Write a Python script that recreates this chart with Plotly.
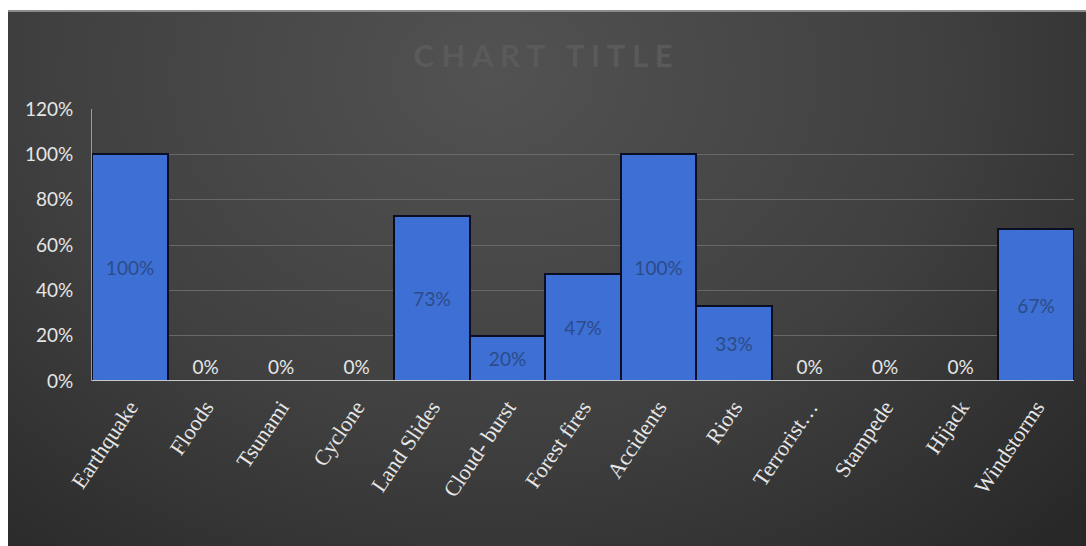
import base64
import plotly.graph_objects as go

# Share of respondents aware of each hazard type
categories = ["Earthquake", "Floods", "Tsunami", "Cyclone", "Land Slides", "Cloud- burst",
              "Forest fires", "Accidents", "Riots", "Terrorist…", "Stampede", "Hijack", "Windstorms"]
values = [100, 0, 0, 0, 73, 20, 47, 100, 33, 0, 0, 0, 67]
y_ticks = [0, 20, 40, 60, 80, 100, 120]
y_tick_labels = ["0%", "20%", "40%", "60%", "80%", "100%", "120%"]

W, H = 1086, 546
ML, MR, MT, MB = 92, 12, 109, 165
PW, PH = W - ML - MR, H - MT - MB

# Dark radial backdrop drawn as an SVG image behind everything
svg = f"""<svg xmlns='http://www.w3.org/2000/svg' width='{W}' height='{H}'>
<defs><radialGradient id='g' cx='0.45' cy='0.12' r='0.75' gradientTransform='translate(0.45 0.12) scale(1 1.6) translate(-0.45 -0.12)'>
<stop offset='0' stop-color='#525252'/><stop offset='0.55' stop-color='#404040'/><stop offset='1' stop-color='#282828'/>
</radialGradient></defs>
<rect x='0' y='0' width='{W}' height='{H}' fill='white'/>
<rect x='8' y='10' width='{W-8}' height='{H-10}' fill='url(#g)'/>
<rect x='8' y='10' width='{W-8}' height='2' fill='#8a8a8a'/>
</svg>"""
bg_uri = "data:image/svg+xml;base64," + base64.b64encode(svg.encode()).decode()

labels = [f"{v}%" for v in values]
positions = ["outside" if v == 0 else "inside" for v in values]

fig = go.Figure(go.Bar(
    x=categories,
    y=values,
    text=labels,
    textposition=positions,
    insidetextanchor="middle",
    insidetextfont=dict(family="Lato", size=19, color="#2b4c88"),
    outsidetextfont=dict(family="Lato", size=19, color="#e6e6e6"),
    cliponaxis=False,
    marker=dict(color="#3e6fd4", line=dict(color="#0b0d22", width=2)),
    hoverinfo="skip",
))

fig.update_layout(
    width=W, height=H,
    margin=dict(l=ML, r=MR, t=MT, b=MB, autoexpand=False),
    paper_bgcolor="white",
    plot_bgcolor="rgba(0,0,0,0)",
    bargap=0,
    showlegend=False,
    title=dict(text="<b>C H A R T   T I T L E</b>", x=0.5, xanchor="center",
               y=1 - 56 / H, yanchor="middle",
               font=dict(family="Lato", size=31, color="#5a5a5a")),
    images=[dict(source=bg_uri, xref="paper", yref="paper",
                 x=-ML / PW, y=1 + MT / PH, sizex=W / PW, sizey=H / PH,
                 xanchor="left", yanchor="top", sizing="stretch", layer="below")],
    xaxis=dict(
        tickangle=-56,
        tickfont=dict(family="Liberation Serif", size=22, color="#e6e6e6"),
        ticklabelstandoff=8,
        showgrid=False, ticks="", showline=False, zeroline=False,
        range=[-0.5, len(categories) - 0.5],
    ),
    yaxis=dict(
        range=[0, 120],
        tickvals=y_ticks, ticktext=y_tick_labels,
        tickfont=dict(family="Lato", size=19, color="#e6e6e6"),
        ticklabelstandoff=14,
        showgrid=True, gridcolor="#686868", gridwidth=1,
        zeroline=False, ticks="",
        showline=True, linecolor="#9a9a9a", linewidth=1,
    ),
    shapes=[dict(type="line", xref="paper", yref="y", x0=0, x1=1, y0=0, y1=0,
                 line=dict(color="#c8c8c8", width=2), layer="above")],
)

fig.write_html("out.html")
